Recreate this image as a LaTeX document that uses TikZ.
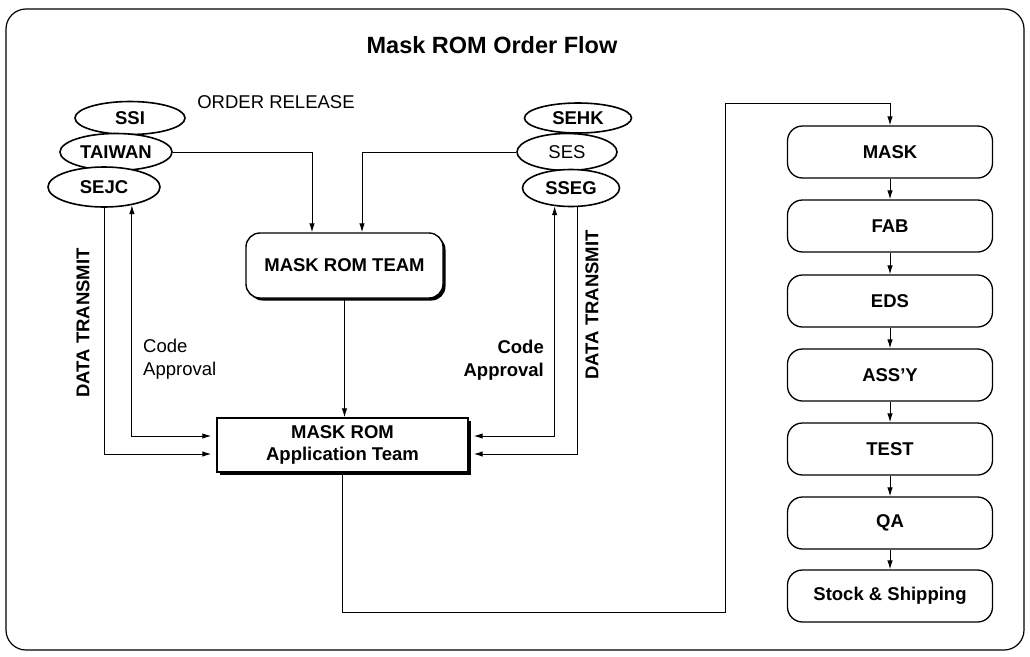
\documentclass[tikz,border=0pt]{standalone}
\usepackage{fontspec}
\setmainfont{Liberation Sans}
\usetikzlibrary{shapes.geometric,arrows.meta,shadows}
\begin{document}
\begin{tikzpicture}[x=1pt,y=-1pt,
  bf/.style={font=\bfseries\fontsize{18.5}{22}\selectfont},
  rg/.style={font=\fontsize{18.5}{23}\selectfont},
  oval/.style={ellipse,draw,fill=white,line width=1.6pt,inner sep=0pt},
  stepbox/.style={draw,line width=1.3pt,rounded corners=15pt,minimum width=205pt,minimum height=52pt,inner sep=0pt,bf},
  teambox/.style={draw,fill=white,line width=1.4pt,inner sep=0pt,bf,
     general shadow={fill=black,shadow xshift=2.5pt,shadow yshift=-2.5pt}},
  conn/.style={line width=1pt},
  arr/.style={conn,-{Latex[length=9pt,width=5.5pt]}},
  darr/.style={conn,{Latex[length=9pt,width=5.5pt]}-{Latex[length=9pt,width=5.5pt]}}
]
\useasboundingbox (0,0) rectangle (1030,656);
\draw[line width=1.2pt,rounded corners=20pt] (6,9) rectangle (1024,650);

% title
\node[font=\bfseries\fontsize{23.5}{26}\selectfont] (title) at (492,45) {Mask ROM Order Flow};

% left ovals
\node[oval,bf,minimum width=110pt,minimum height=33pt] (ssi) at (130,118) {SSI};
\node[oval,bf,minimum width=112pt,minimum height=37pt] (taiwan) at (116,152) {TAIWAN};
\node[oval,bf,minimum width=112pt,minimum height=40pt] (sejc) at (104,187) {SEJC};

% right ovals
\node[oval,rg,minimum width=100pt,minimum height=37pt] (ses) at (567,152) {SES};
\node[oval,bf,minimum width=107pt,minimum height=30pt] (sehk) at (578,118) {SEHK};
\node[oval,bf,minimum width=97pt,minimum height=37pt] (sseg) at (571,188) {SSEG};

% central boxes
\node[teambox,rounded corners=14pt,minimum width=197pt,minimum height=65pt] (team) at (344.5,265.5) {MASK ROM TEAM};
\node[teambox,align=center,minimum width=251pt,minimum height=54pt] (app) at (342.5,445) {MASK ROM\\Application Team};

% right column
\node[stepbox] (mask)  at (890,152) {MASK};
\node[stepbox] (fab)   at (890,226) {FAB};
\node[stepbox] (eds)   at (890,301) {EDS};
\node[stepbox] (assy)  at (890,375) {ASS'Y};
\node[stepbox] (test)  at (890,449) {TEST};
\node[stepbox] (qa)    at (890,523) {QA};
\node[stepbox] (stock) at (890,596) {Stock \& Shipping};

% labels
\node[rg] (orel) at (276,102) {ORDER RELEASE};
\node[bf,rotate=90] (dtl) at (83,323) {DATA TRANSMIT};
\node[bf,rotate=90] (dtr) at (592,305) {DATA TRANSMIT};
\node[rg,anchor=west,align=left,inner sep=0pt] (cal) at (143,359) {Code\\Approval};
\node[anchor=east,align=right,inner sep=0pt,font=\bfseries\fontsize{18.5}{23}\selectfont] (car) at (544,360) {Code\\Approval};

% order release
\draw[arr] (taiwan.east) -| ([xshift=-32.5pt]team.north);
\draw[arr] (ses.west) -| ([xshift=17.5pt]team.north);
\draw[arr] (team.south) -- (team.south |- app.north);

% left links
\draw[arr] (sejc.south) |- ([xshift=-5pt,yshift=-9pt]app.west);
\draw[darr] ([xshift=-5pt,yshift=9pt]app.west) -| (sejc.-33);

% right links
\draw[darr] ([xshift=5pt,yshift=9pt]app.east) -| (sseg.-132);
\draw[arr] (sseg.-72) |- ([xshift=5pt,yshift=-9pt]app.east);

% to process column
\coordinate (r1) at (725,612);
\coordinate (r2) at (725,103);
\draw[arr] (app.south) |- (r1) -- (r2) -| (mask.north);

\draw[arr] (mask) -- (fab);
\draw[arr] (fab) -- (eds);
\draw[arr] (eds) -- (assy);
\draw[arr] (assy) -- (test);
\draw[arr] (test) -- (qa);
\draw[arr] (qa) -- (stock);
\end{tikzpicture}
\end{document}
